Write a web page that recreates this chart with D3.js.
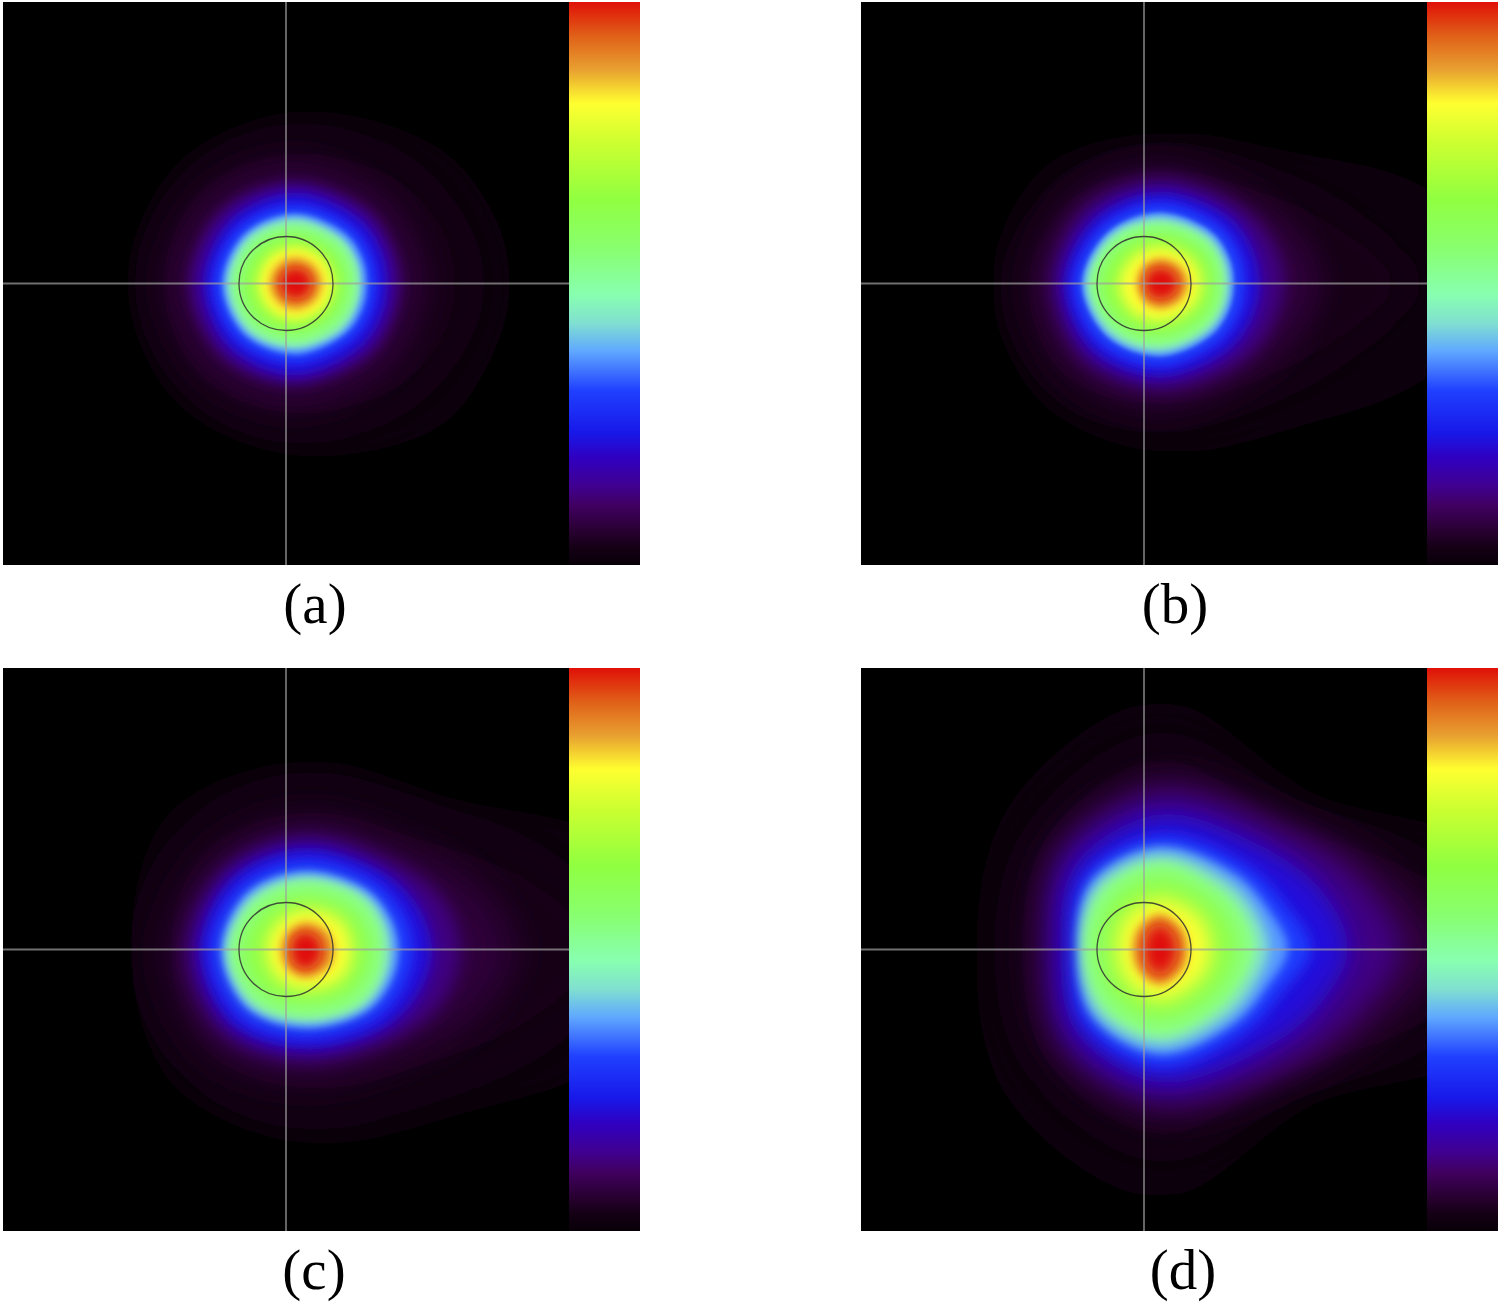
<!DOCTYPE html>
<html>
<head>
<meta charset="utf-8">
<script src="https://cdn.jsdelivr.net/npm/d3@7"></script>
<style>
  html, body { margin: 0; padding: 0; background: #fff; }
  svg { display: block; }
</style>
</head>
<body>
<div id="chart"></div>
<script>
// colour bar, bottom (0) to top (1)
var barValues = [0, 0.01, 0.03, 0.06, 0.105, 0.14, 0.19, 0.235, 0.31, 0.38, 0.43, 0.48, 0.56, 0.65, 0.75, 0.82, 0.88, 0.94, 1];
var barColors = ["#080008", "#0c000c", "#140014", "#280030", "#400060", "#400090", "#3000c0", "#1818e8", "#2040ff", "#60a8ff", "#80e0d0", "#88ffb0", "#88ff70", "#90ff40", "#ccff30", "#ffff30", "#e8a030", "#e06018", "#e01008"];

// colour bar value painted inside each contour, outermost first
var bandValues = [0.006, 0.03, 0.07, 0.13, 0.22, 0.30, 0.37, 0.43, 0.50, 0.64, 0.82, 0.90, 1];

// directions of the contour radii, degrees clockwise from up
var angles = [0, 45, 70, 90, 110, 135, 180, 225, 270, 315];

var labels = ["(a)", "(b)", "(c)", "(d)"];
var peakX = [9, 16, 19, 16];
var peakY = [0, 0, 1, 0];

// outer radius of each band along each direction, measured from the peak
var contoursA = [
  [172, 196, 210, 215, 210, 203, 172, 168, 168, 168],
  [146, 160, 170, 175, 170, 160, 146, 146, 146, 146],
  [122, 124, 126, 128, 126, 126, 124, 126, 128, 125],
  [102, 104, 105, 106, 105, 104, 102, 104, 106, 104],
  [91, 92, 93, 93, 93, 92, 92, 92, 92, 91],
  [79, 80, 81, 81, 81, 80, 80, 81, 82, 80],
  [70, 71, 72, 72, 72, 71, 71, 72, 73, 71],
  [65, 65, 66, 66, 66, 66, 65, 67, 68, 66],
  [59, 60, 61, 61, 61, 60, 60, 62, 63, 61],
  [53, 54, 55, 55, 55, 54, 53, 55, 56, 54],
  [37, 38, 38, 39, 38, 38, 37, 37, 37, 37],
  [26, 26, 26, 27, 26, 26, 26, 25, 25, 25],
  [16, 17, 17, 17, 17, 17, 16, 16, 16, 16]
];
var contoursB = [
  [151, 186, 281, 350, 281, 201, 169, 168, 169, 164],
  [128, 148, 195, 250, 195, 152, 136, 146, 146, 136],
  [118, 126, 148, 160, 148, 132, 126, 128, 128, 123],
  [105, 111, 120, 124, 120, 113, 107, 109, 109, 107],
  [92, 96, 99, 100, 99, 96, 94, 96, 97, 93],
  [81, 83, 85, 85, 85, 83, 83, 85, 87, 82],
  [71, 73, 74, 74, 74, 73, 73, 75, 78, 73],
  [66, 68, 69, 69, 69, 68, 68, 71, 74, 69],
  [60, 62, 63, 63, 63, 62, 62, 65, 69, 64],
  [54, 57, 59, 59, 59, 57, 56, 59, 63, 57],
  [37, 39, 41, 41, 41, 39, 38, 40, 41, 38],
  [25, 26, 27, 28, 27, 26, 25, 24, 23, 24],
  [16, 17, 18, 18, 18, 17, 16, 16, 15, 16]
];
var contoursC = [
  [190, 214, 324, 398, 324, 229, 193, 188, 174, 193],
  [160, 180, 250, 310, 250, 185, 160, 160, 155, 160],
  [132, 147, 185, 210, 185, 147, 130, 137, 137, 132],
  [116, 126, 147, 155, 147, 126, 112, 118, 120, 116],
  [103, 111, 122, 127, 122, 111, 99, 105, 106, 104],
  [91, 98, 105, 108, 105, 98, 88, 93, 95, 92],
  [80, 87, 92, 94, 92, 87, 78, 82, 84, 82],
  [74, 81, 85, 86, 85, 81, 72, 77, 79, 76],
  [68, 75, 78, 78, 78, 75, 66, 71, 74, 70],
  [61, 67, 70, 71, 70, 67, 59, 64, 67, 62],
  [41, 46, 47, 47, 47, 45, 39, 39, 39, 39],
  [28, 29, 29, 29, 29, 28, 27, 25, 24, 25],
  [19, 18, 17, 17, 17, 18, 19, 17, 14, 17]
];
var contoursD = [
  [249, 220, 326, 445, 326, 219, 249, 213, 184, 209],
  [205, 192, 270, 370, 270, 192, 200, 172, 152, 172],
  [175, 185, 240, 285, 235, 185, 170, 148, 130, 150],
  [158, 170, 210, 240, 205, 170, 152, 136, 113, 138],
  [135, 145, 172, 188, 168, 143, 133, 118, 100, 120],
  [114, 120, 133, 151, 129, 118, 118, 105, 88, 105],
  [103, 107, 116, 128, 113, 105, 105, 95, 82, 96],
  [95, 96, 103, 109, 101, 95, 96, 89, 79, 90],
  [86, 84, 91, 95, 88, 83, 86, 80, 74, 82],
  [79, 77, 81, 83, 79, 75, 77, 72, 68, 74],
  [51, 51, 51, 51, 51, 49, 51, 46, 43, 47],
  [35, 30, 28, 27, 28, 30, 35, 30, 27, 30],
  [26, 20, 18, 17, 18, 20, 26, 20, 16, 20]
];
var contours = [contoursA, contoursB, contoursC, contoursD];
var beamRadius = 47;

var plotW = 566, plotH = 563, barW = 71;
var lefts = [3, 861, 3, 861];
var tops = [2, 2, 668, 668];
var labelX = [315, 1175, 314, 1183];
var labelY = [623, 623, 1289, 1289];

var color = d3.scaleLinear().domain(barValues).range(barColors).interpolate(d3.interpolateRgb);
var rScale = d3.scaleLinear().domain([0, 566]).range([0, plotW]);

var svg = d3.select("#chart").append("svg")
    .attr("width", 1500)
    .attr("height", 1303);
var defs = svg.append("defs");

var barGrad = defs.append("linearGradient")
    .attr("id", "barGrad")
    .attr("x1", 0).attr("x2", 0).attr("y1", 1).attr("y2", 0);
barGrad.selectAll("stop").data(barValues).enter().append("stop")
    .attr("offset", function (d) { return d; })
    .attr("stop-color", function (d) { return color(d); });

var contourLine = d3.lineRadial()
    .angle(function (d, i) { return angles[i] * Math.PI / 180; })
    .radius(function (d) { return rScale(d); })
    .curve(d3.curveCatmullRomClosed);

contours.forEach(function (rows, p) {
  var x = d3.scaleLinear().domain([-283, 283]).range([lefts[p], lefts[p] + plotW]);
  var y = d3.scaleLinear().domain([-281.5, 281.5]).range([tops[p], tops[p] + plotH]);

  defs.append("clipPath").attr("id", "clip" + p).append("rect")
      .attr("x", lefts[p]).attr("y", tops[p]).attr("width", plotW).attr("height", plotH);

  var panel = svg.append("g");
  panel.append("rect")
      .attr("x", lefts[p]).attr("y", tops[p]).attr("width", plotW).attr("height", plotH)
      .attr("fill", "#000");

  var field = panel.append("g")
      .attr("clip-path", "url(#clip" + p + ")")
    .append("g")
      .attr("transform", "translate(" + x(peakX[p]) + "," + y(peakY[p]) + ")");

  // blur each contour by about half the gap to the next one, so the bands run together
  // the faint outer ones get more, their steps show on black
  rows.forEach(function (row, i) {
    var next = rows[i + 1] || row.map(function () { return 0; });
    var gap = d3.mean(row, function (d, k) { return d - next[k]; });
    var div = i < 3 ? 1.4 : (i == rows.length - 1 ? 3 : 2);
    var f = defs.append("filter")
        .attr("id", "blur" + p + "_" + i)
        .attr("filterUnits", "userSpaceOnUse")
        .attr("x", -900).attr("y", -900).attr("width", 1800).attr("height", 1800);
    f.append("feGaussianBlur").attr("stdDeviation", Math.max(1.5, gap / div));
  });

  field.selectAll("path").data(rows).enter().append("path")
      .attr("d", function (d) { return contourLine(d); })
      .attr("fill", function (d, i) { return color(bandValues[i]); })
      .attr("filter", function (d, i) { return "url(#blur" + p + "_" + i + ")"; });

  // cross hair and beam circle
  panel.append("line")
      .attr("x1", x(-283)).attr("x2", x(283)).attr("y1", y(0)).attr("y2", y(0))
      .attr("stroke", "#a0a0a0").attr("stroke-opacity", 0.7).attr("stroke-width", 1.8);
  panel.append("line")
      .attr("x1", x(0)).attr("x2", x(0)).attr("y1", y(-281.5)).attr("y2", y(281.5))
      .attr("stroke", "#a0a0a0").attr("stroke-opacity", 0.7).attr("stroke-width", 1.8);
  panel.append("circle")
      .attr("cx", x(0)).attr("cy", y(0)).attr("r", rScale(beamRadius))
      .attr("fill", "none").attr("stroke", "#303030").attr("stroke-opacity", 0.85).attr("stroke-width", 1.3);

  panel.append("rect")
      .attr("x", lefts[p] + plotW).attr("y", tops[p]).attr("width", barW).attr("height", plotH)
      .attr("fill", "url(#barGrad)");

  svg.append("text")
      .attr("x", labelX[p]).attr("y", labelY[p])
      .attr("text-anchor", "middle")
      .attr("font-family", "'Liberation Serif', serif")
      .attr("font-size", 57)
      .attr("fill", "#000")
      .text(labels[p]);
});
</script>
</body>
</html>
